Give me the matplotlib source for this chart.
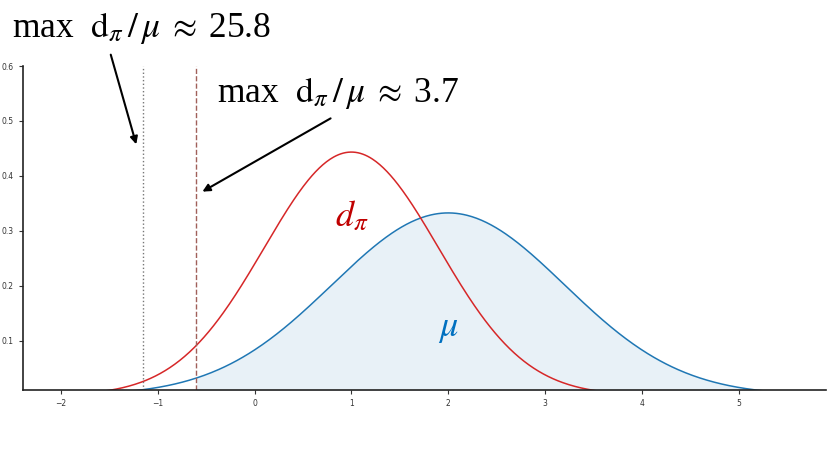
import numpy as np
import matplotlib.pyplot as plt

plt.rcParams['font.family'] = ['Liberation Serif', 'DejaVu Serif']
plt.rcParams['mathtext.fontset'] = 'stix'

# two gaussian densities: (mean, std)
mu_params = [2.0, 1.2]
dpi_params = [1.0, 0.9]
vlines_x = [-1.155, -0.6]
ratio_labels = ["25.8", "3.7"]
xticks = [-2, -1, 0, 1, 2, 3, 4, 5]
yticks = [0.1, 0.2, 0.3, 0.4, 0.5, 0.6]


def pdf(x, m, s):
    return np.exp(-0.5 * ((x - m) / s) ** 2) / (s * np.sqrt(2 * np.pi))


x = np.linspace(-3, 7, 800)
y_mu = pdf(x, *mu_params)
y_d = pdf(x, *dpi_params)

fig = plt.figure(figsize=(8.3, 4.67), dpi=100)
ax = fig.add_axes([23 / 830, 1 - 390 / 467, 803 / 830, 324 / 467])

ax.plot(x, y_mu, color='#1f77b4', lw=1.1)
ax.plot(x, y_d, color='#d62728', lw=1.1)
mask = x >= vlines_x[1]
ax.fill_between(x[mask], 0, y_mu[mask], color='#1f77b4', alpha=0.1, lw=0)

ax.axvline(vlines_x[0], color='#777777', ls=':', lw=1)
ax.axvline(vlines_x[1], color='#a0605a', ls='--', lw=1)

ax.set_xlim(-2.39, 5.9)
ax.set_ylim(0.01, 0.6)
ax.set_xticks(xticks)
ax.set_yticks(yticks)
ax.set_xticklabels([str(t).replace('-', '\u2212') for t in xticks], family='DejaVu Sans')
ax.set_yticklabels([str(t) for t in yticks], family='DejaVu Sans')
ax.tick_params(labelsize=5.5, colors='#333333', length=3, width=0.8)
for s in ['top', 'right']:
    ax.spines[s].set_visible(False)
for s in ['left', 'bottom']:
    ax.spines[s].set_color('#222222')
    ax.spines[s].set_linewidth(1.2)

ax.text(dpi_params[0], 0.325, r'$d_{\pi}$', color='#c00000', fontsize=26, ha='center', va='center')
ax.text(mu_params[0], 0.122, r'$\mu$', color='#0070c0', fontsize=26, ha='center', va='center')

label = r'max  $\mathrm{d}_{\pi}\,/\,\mu\;\approx\;$' + '%s'
fig.text(12 / 830, 1 - 28 / 467, label % ratio_labels[0], fontsize=25.5, va='center', ha='left')
fig.text(217 / 830, 1 - 93 / 467, label % ratio_labels[1], fontsize=25.5, va='center', ha='left')

ax.annotate('', xy=(137, 467 - 147), xycoords='figure pixels',
            xytext=(110, 467 - 52), textcoords='figure pixels',
            arrowprops=dict(arrowstyle='-|>', color='black', lw=1.5, mutation_scale=11))
ax.annotate('', xy=(200, 467 - 193), xycoords='figure pixels',
            xytext=(333, 467 - 117), textcoords='figure pixels',
            arrowprops=dict(arrowstyle='-|>', color='black', lw=1.5, mutation_scale=11))

fig.savefig('out.png', dpi=100)
